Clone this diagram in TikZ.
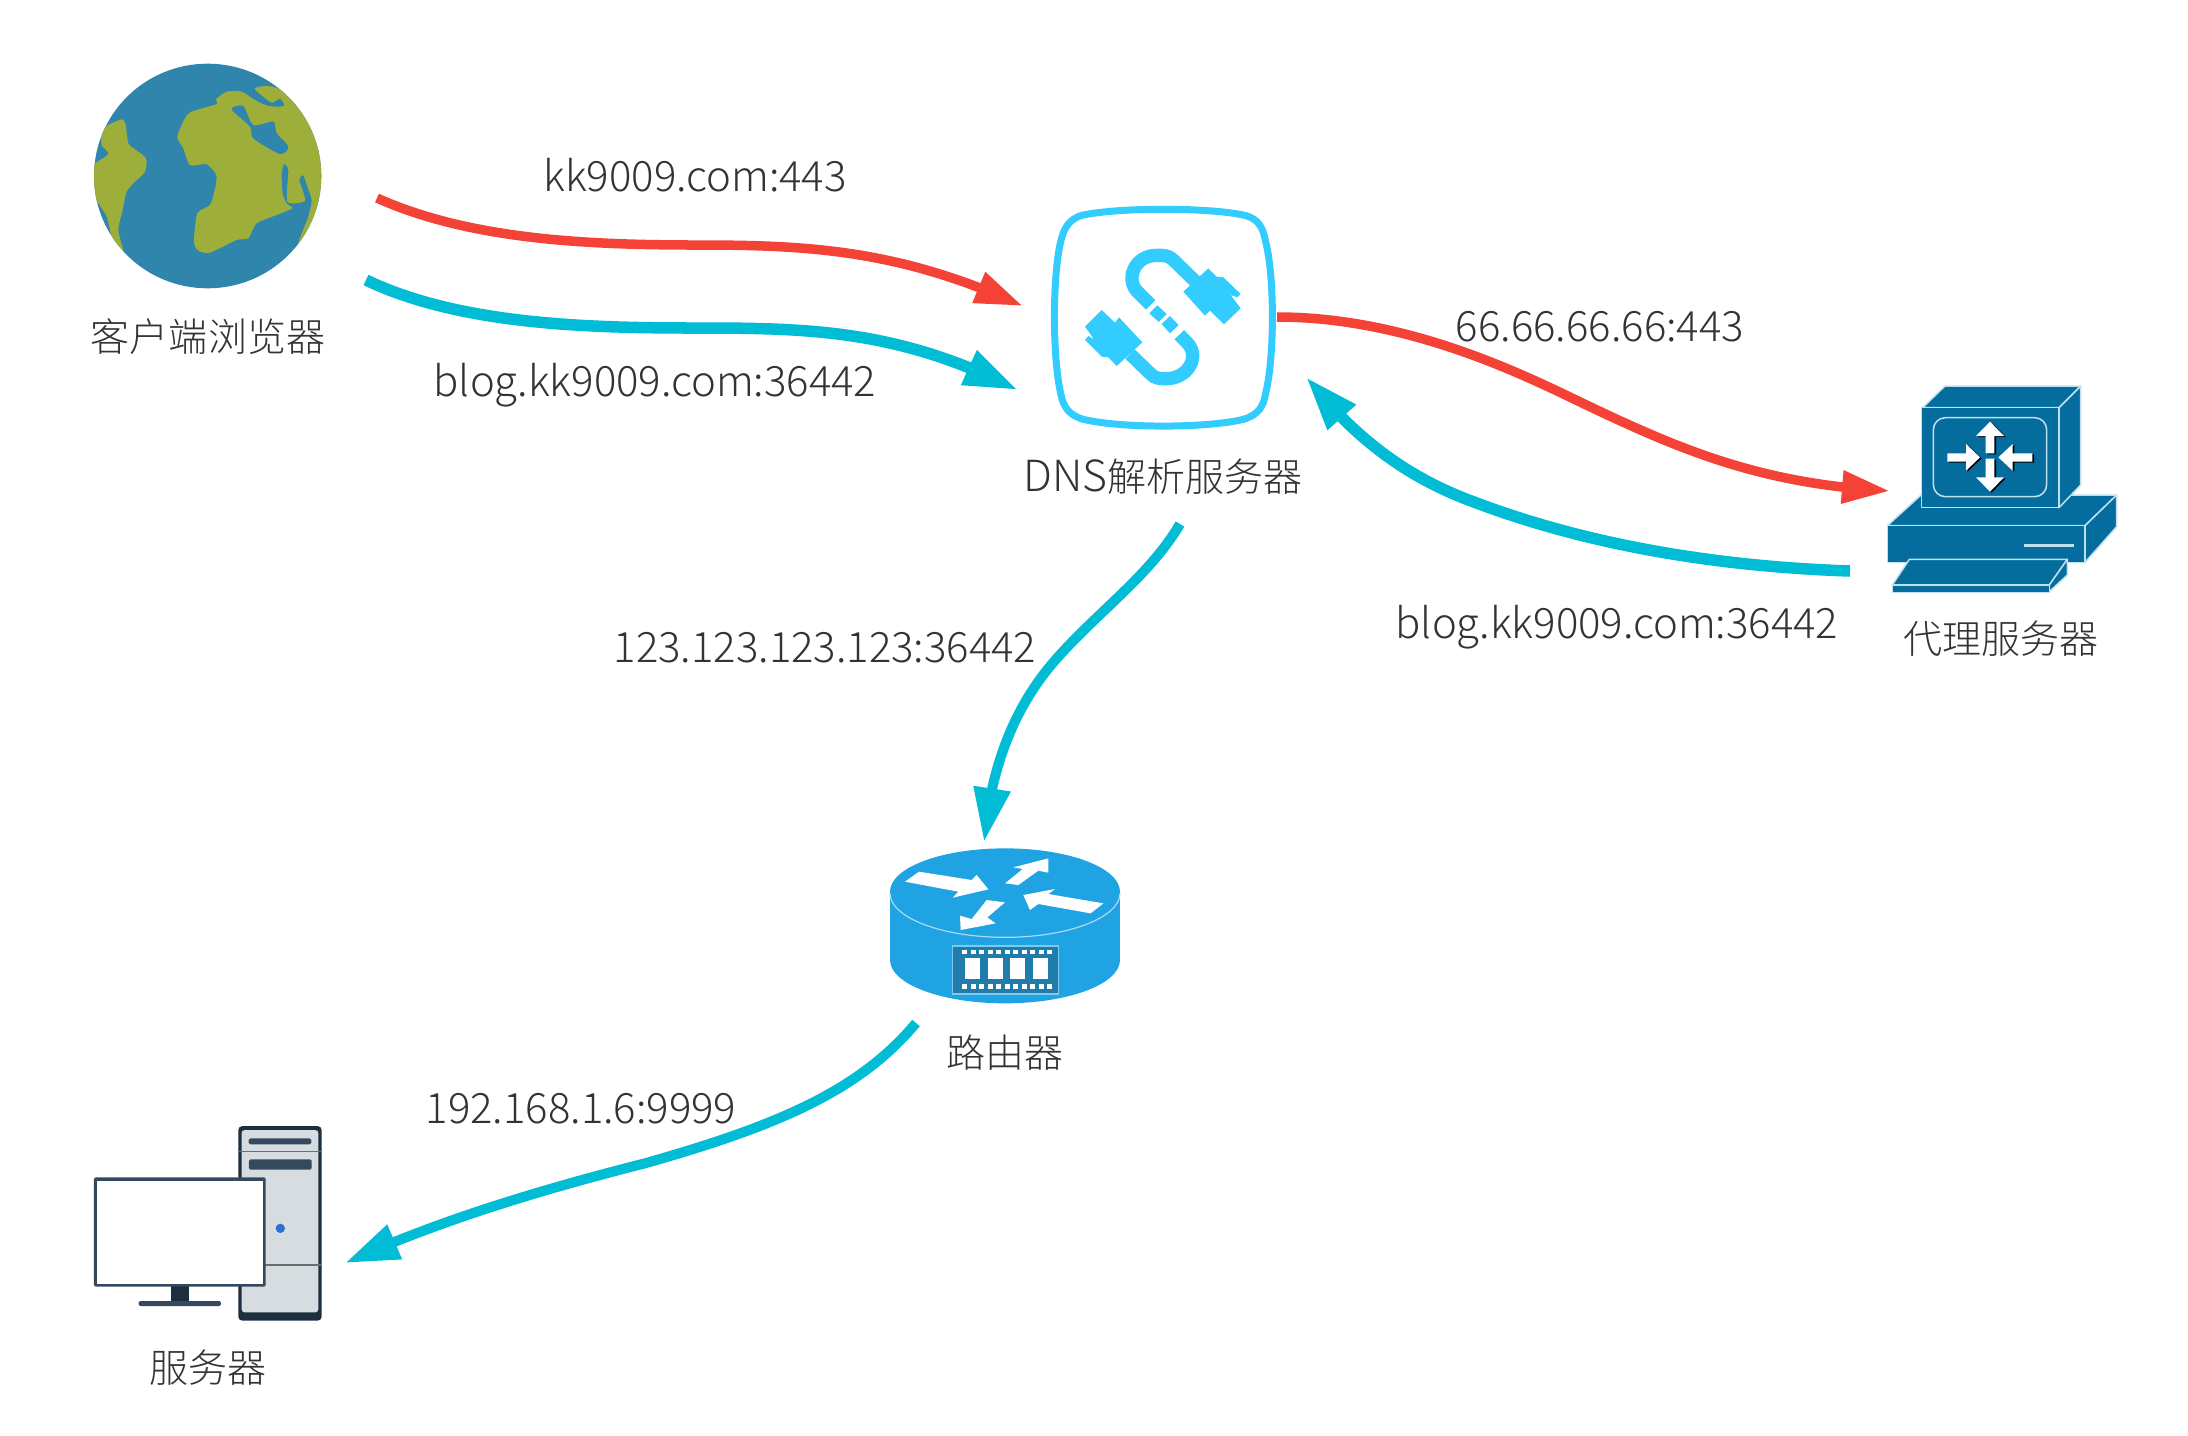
\documentclass[tikz,border=0pt]{standalone}
\usepackage{fontspec}
\setmainfont{Noto Sans CJK SC}[UprightFont=* Light]
\usetikzlibrary{arrows.meta,bending}
\definecolor{flowred}{HTML}{F44336}
\definecolor{flowcyan}{HTML}{00BCD4}
\definecolor{ocean}{HTML}{3085AC}
\definecolor{land}{HTML}{9DAE3A}
\definecolor{dnsblue}{HTML}{33CCFF}
\definecolor{proxyblue}{HTML}{046D9E}
\definecolor{proxyline}{HTML}{BFE0EE}
\definecolor{routerblue}{HTML}{20A3E3}
\definecolor{routerline}{HTML}{A8DAF5}
\definecolor{chipblue}{HTML}{1F7CAB}
\definecolor{chipline}{HTML}{7ECBEF}
\definecolor{towerdark}{HTML}{1C2E40}
\definecolor{towerbody}{HTML}{D7DCE0}
\definecolor{framedark}{HTML}{34495E}
\definecolor{dotblue}{HTML}{2A6FD6}
\definecolor{slitgrey}{HTML}{66706F}
\definecolor{textgrey}{HTML}{333333}
\tikzset{
	lbl/.style={text=textgrey, anchor=base, inner sep=0pt, font=\fontsize{11.1}{13}\selectfont},
	addr/.style={lbl, font=\fontsize{11.9}{13}\selectfont},
	redflow/.style={draw=flowred, line width=0.095cm, -{Triangle[length=0.48cm,width=0.31cm,flex=1]}, flowred},
	cyanflow/.style={draw=flowcyan, line width=0.1cm, -{Triangle[length=0.54cm,width=0.35cm,flex=1]}, flowcyan},
	cyanthick/.style={cyanflow, line width=0.115cm},
	proxyface/.style={fill=proxyblue, draw=proxyline, line width=0.015cm, line join=round},
}

\begin{document}
\begin{tikzpicture}[x=0.01cm, y=-0.01cm]
	\useasboundingbox (0,0) rectangle (2188,1435);

	%%%%% GLOBE %%%%%
	\begin{scope}[shift={(60,30)}, scale=0.3333]
		\fill[ocean] (443,438) ellipse (341 and 337);
		\begin{scope}
			\clip (443,438) ellipse (341 and 337);
			\fill[land] plot[smooth cycle, tension=0.45] coordinates {(90,420) (105,400) (145,372) (125,345) (125,310) (140,288) (185,268) (197,285) (205,340) (225,358) (258,385) (255,425) (225,455) (200,485) (188,540) (175,600) (190,665) (160,640) (140,560) (105,505) (85,460)};
			\fill[land] plot[smooth cycle, tension=0.4] coordinates {(352,320) (375,265) (395,245) (470,222) (468,208) (500,185) (545,185) (585,210) (625,228) (672,228) (660,205) (635,218) (600,192) (585,175) (620,168) (668,183) (820,300) (820,500) (715,645) (745,560) (755,510) (742,470) (730,436) (718,450) (735,512) (682,515) (685,420) (672,403) (665,430) (668,490) (680,520) (697,535) (650,555) (590,580) (565,625) (530,630) (450,668) (415,662) (402,635) (412,550) (452,522) (470,440) (440,403) (390,405) (370,355)};
			\fill[ocean] plot[smooth cycle, tension=0.45] coordinates {(515,238) (550,228) (580,285) (640,275) (650,310) (685,350) (660,372) (580,325) (570,290)};
		\end{scope}
	\end{scope}
	\node[lbl] (browserlabel) at (208,351) {客户端浏览器};

	%%%%% DNS %%%%%
	\begin{scope}[shift={(1020,180)}, scale=0.3333]
		\draw[dnsblue, line width=0.07cm] (190,105) .. controls (300,82) and (560,82) .. (670,105) .. controls (720,115) and (730,150) .. (737,185) .. controls (764,290) and (764,530) .. (737,640) .. controls (730,680) and (715,705) .. (670,718) .. controls (560,745) and (300,745) .. (190,718) .. controls (145,705) and (130,680) .. (122,640) .. controls (97,530) and (97,290) .. (122,185) .. controls (130,150) and (145,115) .. (190,105) -- cycle;
		\draw[dnsblue, line width=0.133cm] (392,375) -- (352,335) .. controls (315,295) and (345,226) .. (410,226) .. controls (430,226) and (445,226) .. (458,238) -- (527,305);
		\draw[dnsblue, line width=0.133cm] (478,464) -- (505,492) .. controls (540,535) and (500,596) .. (440,596) .. controls (420,596) and (405,596) .. (392,582) -- (330,522);
		\fill[dnsblue] (490,335) -- (565,265) -- (590,290) -- (610,292) -- (662,342) -- (652,352) -- (632,345) -- (662,385) -- (612,433) -- (570,392) -- (555,407) -- cycle;
		\fill[dnsblue] (367,487) -- (290,558) -- (265,532) -- (245,530) -- (195,480) -- (205,468) -- (222,478) -- (195,440) -- (245,390) -- (285,428) -- (297,412) -- cycle;
		\fill[dnsblue] (388,400) -- (412,376) -- (440,402) -- (416,426) -- cycle;
		\fill[dnsblue] (425,432) -- (450,408) -- (476,435) -- (450,460) -- cycle;
	\end{scope}
	\node[lbl] (dnslabel) at (1163,491) {{\fontsize{12.2}{13}\selectfont DNS}解析服务器};

	%%%%% PROXY %%%%%
	\begin{scope}[shift={(1860,370)}, scale=0.3333]
		\draw[proxyface] (82,467) -- (183,375) -- (770,375) -- (675,467) -- cycle;
		\draw[proxyface] (675,467) -- (770,375) -- (770,470) -- (675,577) -- cycle;
		\draw[proxyface] (82,467) rectangle (675,577);
		\draw[proxyline, line width=0.035cm] (492,527) -- (642,527);
		\draw[proxyface] (188,113) -- (255,48) -- (662,48) -- (597,113) -- cycle;
		\draw[proxyface] (597,113) -- (662,48) -- (662,345) -- (597,413) -- cycle;
		\draw[proxyface] (184,113) rectangle (597,413);
		\draw[proxyface] (97,645) -- (148,568) -- (622,568) -- (568,645) -- cycle;
		\draw[proxyface] (568,645) -- (622,568) -- (622,615) -- (568,665) -- cycle;
		\draw[proxyface] (97,645) rectangle (568,667);
		\draw[proxyline, line width=0.015cm, rounded corners=0.12cm] (220,143) rectangle (560,380);
		\foreach \col/\dx/\dy in {black/5/3, white/0/0} {
			\begin{scope}[shift={(\dx,\dy)}]
				\fill[\col] (390,155) -- (432,198) -- (403,198) -- (403,250) -- (377,250) -- (377,198) -- (348,198) -- cycle;
				\fill[\col] (390,365) -- (432,322) -- (403,322) -- (403,266) -- (377,266) -- (377,322) -- (348,322) -- cycle;
				\fill[\col] (360,262) -- (318,222) -- (318,250) -- (262,250) -- (262,275) -- (318,275) -- (318,302) -- cycle;
				\fill[\col] (415,262) -- (458,222) -- (458,250) -- (517,250) -- (517,275) -- (458,275) -- (458,302) -- cycle;
			\end{scope}
		}
	\end{scope}
	\node[lbl] (proxylabel) at (2001,653) {代理服务器};

	%%%%% ROUTER %%%%%
	\begin{scope}[shift={(870,830)}, scale=0.3333]
		\fill[routerblue] (60,185) .. controls (60,113) and (214,55) .. (405,55) .. controls (596,55) and (750,113) .. (750,185) -- (750,390) .. controls (750,462) and (596,520) .. (405,520) .. controls (214,520) and (60,462) .. (60,390) -- cycle;
		\draw[routerline, line width=0.012cm] (60,190) .. controls (60,262) and (214,322) .. (405,322) .. controls (596,322) and (750,262) .. (750,190);
		\fill[white] (105,155) -- (147,125) -- (305,150) -- (320,135) -- (355,178) -- (248,203) -- (265,185) -- cycle;
		\fill[white] (405,160) -- (458,117) -- (430,112) -- (535,85) -- (535,128) -- (505,122) -- (445,165) -- cycle;
		\fill[white] (700,220) -- (662,250) -- (505,222) -- (480,240) -- (460,195) -- (555,177) -- (535,192) -- cycle;
		\fill[white] (405,217) -- (352,262) -- (377,280) -- (272,300) -- (270,257) -- (305,267) -- (350,210) -- cycle;
		\draw[fill=chipblue, draw=chipline, line width=0.012cm] (248,348) rectangle (565,492);
		\foreach \i in {0,...,10} {
			\fill[white] (277+25.5*\i,359) rectangle (292+25.5*\i,372);
			\fill[white] (277+25.5*\i,463) rectangle (292+25.5*\i,476);
		}
		\foreach \i in {285,353,421,489} {
			\fill[white] (\i,385) rectangle (\i+45,448);
		}
	\end{scope}
	\node[lbl] (routerlabel) at (1005,1067) {路由器};

	%%%%% SERVER %%%%%
	\begin{scope}[shift={(70,1110)}, scale=0.3333]
		\fill[towerdark, rounded corners=0.04cm] (505,48) rectangle (755,632);
		\fill[towerbody, rounded corners=0.03cm] (515,60) rectangle (745,607);
		\draw[slitgrey, line width=0.012cm] (505,125) -- (755,125);
		\draw[slitgrey, line width=0.012cm] (505,465) -- (755,465);
		\fill[framedark, rounded corners=0.015cm] (536,85) rectangle (724,103);
		\fill[framedark, rounded corners=0.015cm] (537,148) rectangle (725,179);
		\fill[dotblue] (631,355) circle (14);
		\fill[towerdark] (302,525) rectangle (358,575);
		\fill[framedark, rounded corners=0.015cm] (206,573) rectangle (453,588);
		\fill[framedark, rounded corners=0.015cm] (72,202) rectangle (587,530);
		\fill[white] (82,213) rectangle (578,521);
	\end{scope}
	\node[lbl] (serverlabel) at (208,1382) {服务器};

	%%%%% CONNECTORS %%%%%
	\coordinate (browserred) at (377,198);
	\coordinate (dnsredin) at (1023,306);
	\coordinate (browsercyan) at (366,280);
	\coordinate (dnscyanin) at (1018,390);
	\coordinate (dnsredout) at (1277,317);
	\coordinate (proxyredin) at (1890,491);
	\coordinate (proxycyanout) at (1850,571);
	\coordinate (dnscyanback) at (1306,377);
	\coordinate (dnscyanout) at (1180,524);
	\coordinate (routerin) at (984,842);
	\coordinate (routerout) at (916,1023);
	\coordinate (serverin) at (345,1263);

	\draw[redflow] (browserred) .. controls (470,240) and (590,245) .. (698,245) .. controls (810,245) and (900,250) .. (dnsredin);
	\draw[cyanthick] (browsercyan) .. controls (460,325) and (590,328) .. (698,328) .. controls (810,328) and (900,330) .. (dnscyanin);
	\draw[redflow] (dnsredout) .. controls (1400,317) and (1510,368) .. (1576,400) .. controls (1680,450) and (1760,484) .. (proxyredin);
	\draw[cyanthick] (proxycyanout) .. controls (1700,566) and (1574,540) .. (1474,502) .. controls (1400,475) and (1350,432) .. (dnscyanback);
	\draw[cyanflow] (dnscyanout) .. controls (1150,575) and (1100,610) .. (1058,657) .. controls (1010,710) and (990,775) .. (routerin);
	\draw[cyanflow] (routerout) .. controls (860,1090) and (780,1125) .. (646,1163) .. controls (540,1190) and (440,1220) .. (serverin);

	%%%%% ADDRESSES %%%%%
	\node[addr] (redaddr) at (695,191) {kk9009.com:443};
	\node[addr] (bloginaddr) at (655,396) {blog.kk9009.com:36442};
	\node[addr] (proxyaddr) at (1600,341) {66.66.66.66:443};
	\node[addr] (blogbackaddr) at (1617,638) {blog.kk9009.com:36442};
	\node[addr] (routeraddr) at (825,662) {123.123.123.123:36442};
	\node[addr] (serveraddr) at (581,1123) {192.168.1.6:9999};
\end{tikzpicture}
\end{document}
